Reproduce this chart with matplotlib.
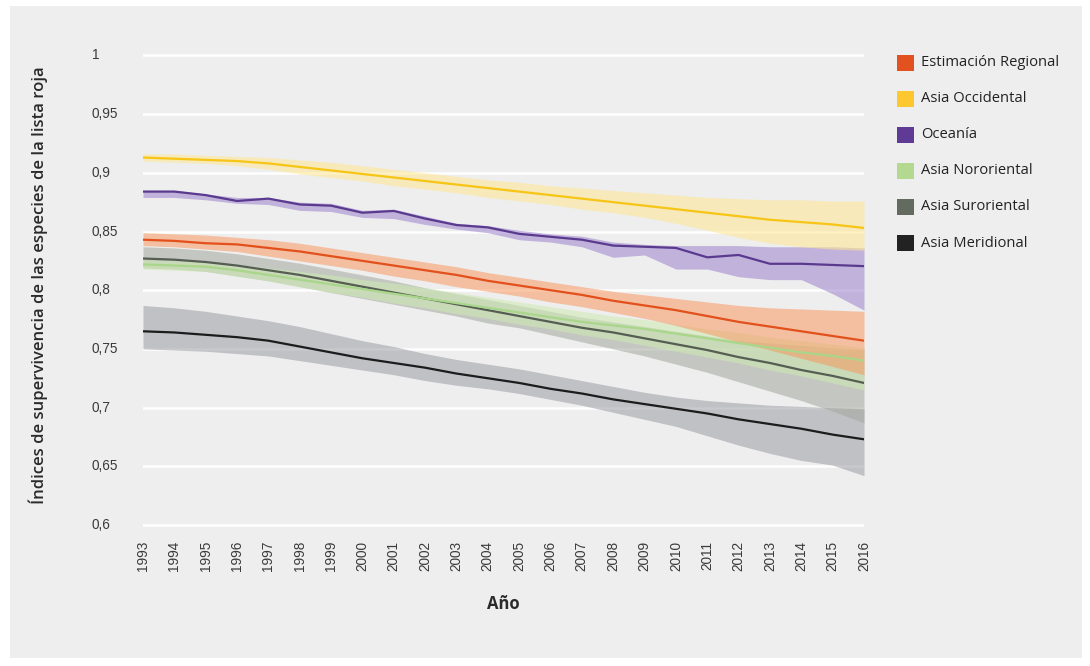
import matplotlib
matplotlib.use("Agg")
import matplotlib.pyplot as plt
from matplotlib.patches import Rectangle
import matplotlib.transforms as mtransforms

# ---- data -------------------------------------------------------------
years = list(range(1993, 2017))

regional = [.843, .842, .840, .839, .836, .833, .829, .825, .821, .817, .813, .808,
            .804, .800, .796, .791, .787, .783, .778, .773, .769, .765, .761, .757]
regional_hi = [.849, .848, .847, .845, .843, .840, .836, .832, .828, .824, .820, .815,
               .811, .807, .803, .799, .796, .793, .790, .787, .785, .784, .783, .782]
regional_lo = [.838, .837, .835, .833, .829, .825, .821, .817, .812, .808, .803, .799,
               .795, .790, .786, .781, .776, .770, .763, .756, .749, .742, .735, .728]

occidental = [.913, .912, .911, .910, .908, .905, .902, .899, .896, .893, .890, .887,
              .884, .881, .878, .875, .872, .869, .866, .863, .860, .858, .856, .853]
occidental_hi = [.916, .916, .915, .914, .913, .911, .909, .906, .903, .900, .897, .894,
                 .892, .889, .887, .885, .883, .881, .879, .878, .877, .877, .876, .876]
occidental_lo = [.910, .909, .908, .906, .903, .899, .896, .893, .889, .886, .883, .879,
                 .876, .873, .869, .866, .862, .857, .851, .845, .840, .837, .835, .834]

oceania = [.884, .884, .881, .876, .878, .873, .872, .866, .8675, .861, .8555, .8535,
           .848, .8455, .843, .838, .837, .836, .828, .830, .8225, .8225, .8215, .8205]
oceania_hi = [.885, .885, .882, .879, .879, .875, .874, .868, .869, .863, .857, .855,
              .851, .848, .846, .841, .839, .838, .838, .838, .837, .837, .837, .836]
oceania_lo = [.879, .879, .877, .874, .873, .868, .867, .862, .861, .856, .852, .849,
              .843, .841, .837, .828, .830, .818, .818, .8115, .809, .809, .797, .783]

nororiental = [.822, .821, .820, .817, .813, .809, .805, .801, .797, .793, .789, .785,
               .781, .777, .773, .770, .767, .763, .759, .755, .751, .747, .744, .740]
nororiental_hi = [.826, .825, .824, .822, .819, .816, .813, .809, .806, .802, .798, .794,
                  .790, .786, .782, .778, .775, .771, .767, .764, .760, .757, .754, .751]
nororiental_lo = [.818, .817, .816, .812, .808, .803, .798, .794, .789, .785, .780, .776,
                  .771, .767, .762, .758, .753, .748, .743, .738, .732, .727, .721, .715]

suroriental = [.827, .826, .824, .821, .817, .813, .808, .803, .798, .793, .788, .783,
               .778, .773, .768, .764, .759, .754, .749, .743, .738, .732, .727, .721]
suroriental_hi = [.837, .836, .834, .831, .827, .823, .818, .813, .808, .802, .797, .792,
                  .787, .782, .777, .773, .769, .765, .761, .757, .755, .753, .751, .750]
suroriental_lo = [.819, .818, .816, .812, .808, .803, .798, .793, .788, .783, .778, .772,
                  .768, .762, .756, .750, .744, .737, .730, .722, .714, .706, .697, .687]

meridional = [.765, .764, .762, .760, .757, .752, .747, .742, .738, .734, .729, .725,
              .721, .716, .712, .707, .703, .699, .695, .690, .686, .682, .677, .673]
meridional_hi = [.787, .785, .782, .778, .774, .769, .763, .757, .752, .746, .741, .737,
                 .733, .728, .723, .718, .713, .709, .706, .704, .702, .701, .700, .699]
meridional_lo = [.750, .749, .748, .746, .744, .740, .736, .732, .728, .723, .719, .716,
                 .712, .707, .702, .696, .690, .684, .676, .668, .661, .655, .651, .642]

series_names = ["Estimación Regional", "Asia Occidental", "Oceanía",
                "Asia Nororiental", "Asia Suroriental", "Asia Meridional"]
y_ticks = [0.6, 0.65, 0.7, 0.75, 0.8, 0.85, 0.9, 0.95, 1.0]
y_tick_labels = ["0,6", "0,65", "0,7", "0,75", "0,8", "0,85", "0,9", "0,95", "1"]

# ---- styling ----------------------------------------------------------
series = [
    # name, line, hi, lo, line colour, band colour, legend colour
    (series_names[5], meridional, meridional_hi, meridional_lo, "#1c1c1c", "#9b9ca4", "#222222"),
    (series_names[4], suroriental, suroriental_hi, suroriental_lo, "#565e53", "#a2a79c", "#636a60"),
    (series_names[3], nororiental, nororiental_hi, nororiental_lo, "#a9d68a", "#cdeaaf", "#b3d88f"),
    (series_names[0], regional, regional_hi, regional_lo, "#e2501c", "#f99760", "#e1521f"),
    (series_names[2], oceania, oceania_hi, oceania_lo, "#5a3a8e", "#9b81cc", "#5f3b95"),
    (series_names[1], occidental, occidental_hi, occidental_lo, "#f6c515", "#ffe68f", "#fdc82f"),
]
legend_colors = {s[0]: s[6] for s in series}

W, H = 1090, 666
fig = plt.figure(figsize=(W / 100, H / 100), dpi=100)
fig.patch.set_facecolor("white")

# light grey panel behind everything
fig.add_artist(Rectangle((10 / W, 1 - 658 / H), (1082 - 10) / W, (658 - 6) / H,
                         transform=fig.transFigure, facecolor="#eeeeee",
                         edgecolor="none", zorder=0))

ymin, ymax = 0.597, 1.003
px_per_unit = 1174
bottom_px = 525 + (0.6 - ymin) * px_per_unit
height_px = (ymax - ymin) * px_per_unit
ax = fig.add_axes([143 / W, 1 - bottom_px / H, (864 - 143) / W, height_px / H])
ax.set_facecolor("none")
ax.set_xlim(1993, 2016)
ax.set_ylim(ymin, ymax)
for sp in ax.spines.values():
    sp.set_visible(False)
ax.set_xticks([])
ax.set_yticks([])

for yt in y_ticks:
    ax.axhline(yt, color="white", lw=1.8, zorder=1)

for name, line, hi, lo, lc, bc, _ in series:
    ax.fill_between(years, lo, hi, color=bc, alpha=0.55, lw=0, zorder=2)
for name, line, hi, lo, lc, bc, _ in series:
    ax.plot(years, line, color=lc, lw=1.6, zorder=3, solid_joinstyle="round")

tick_color = "#3a3a3a"
# y tick labels, left aligned in a column
ytrans = mtransforms.blended_transform_factory(fig.transFigure, ax.transData)
for yt, lab in zip(y_ticks, y_tick_labels):
    fig.text(92 / W, yt, lab, transform=ytrans, ha="left", va="center",
             fontsize=9.8, color=tick_color, family="Liberation Sans")

# x tick labels, rotated
xtrans = mtransforms.blended_transform_factory(ax.transData, fig.transFigure)
for yr in years:
    fig.text(yr, 1 - 541 / H, str(yr), transform=xtrans, rotation=90,
             ha="center", va="top", fontsize=9.8, color=tick_color,
             family="Liberation Sans")

fig.text(503 / W, 1 - 604 / H, "Año", ha="center", va="center", fontsize=12,
         fontweight="bold", color="#2a2a2a", family="Open Sans")
fig.text(38 / W, 1 - 285 / H,
         "Índices de supervivencia de las especies de la lista roja",
         rotation=90, ha="center", va="center", fontsize=12,
         fontweight="semibold", color="#2a2a2a", family="Open Sans")

# legend
legend_order = series_names
for i, name in enumerate(legend_order):
    yc = 63 + i * 36
    fig.add_artist(Rectangle((897 / W, 1 - (yc + 8) / H), 17 / W, 16 / H,
                             transform=fig.transFigure,
                             facecolor=legend_colors[name], edgecolor="none"))
    fig.text(921 / W, 1 - yc / H, name, ha="left", va="center", fontsize=10.6,
             color="#222222", family="Open Sans")

fig.savefig("out.png", dpi=100, facecolor="white")
